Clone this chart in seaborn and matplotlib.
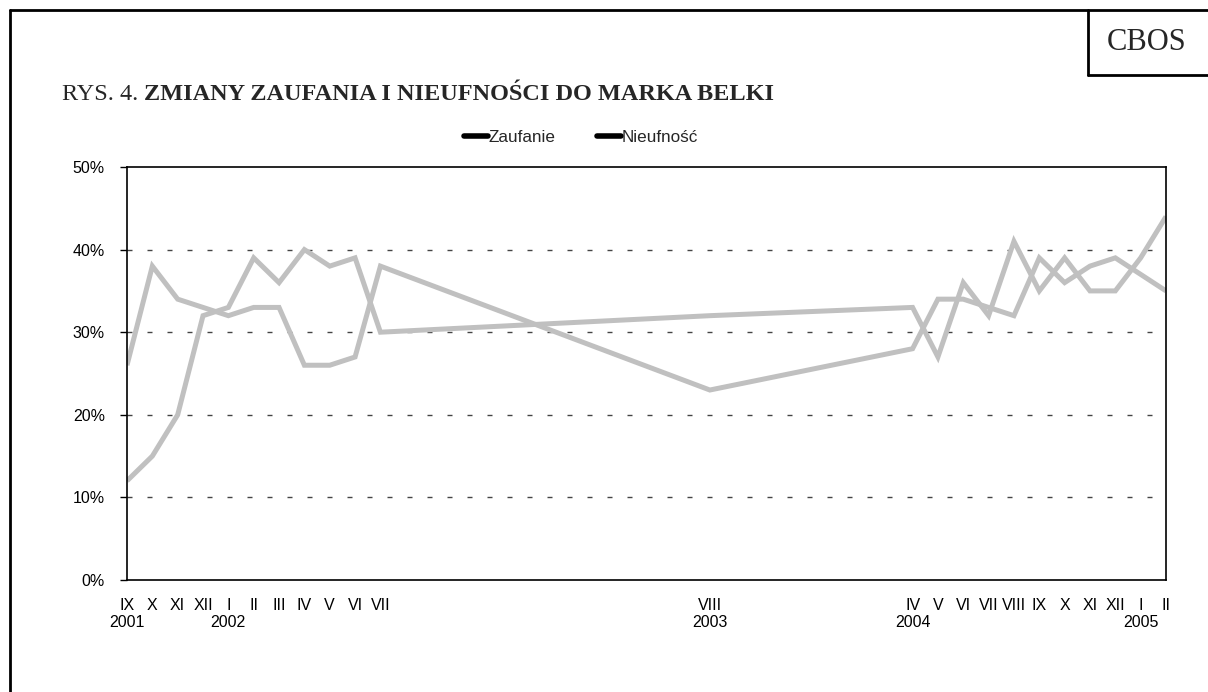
import matplotlib
matplotlib.use("Agg")
import matplotlib.pyplot as plt
from matplotlib.lines import Line2D
import seaborn as sns
import pandas as pd

# ---- data ----
dates = ["2001-09", "2001-10", "2001-11", "2001-12", "2002-01", "2002-02", "2002-03",
         "2002-04", "2002-05", "2002-06", "2002-07", "2003-08", "2004-04", "2004-05",
         "2004-06", "2004-07", "2004-08", "2004-09", "2004-10", "2004-11", "2004-12",
         "2005-01", "2005-02"]
month_labels = ["IX", "X", "XI", "XII", "I", "II", "III", "IV", "V", "VI", "VII", "VIII",
                "IV", "V", "VI", "VII", "VIII", "IX", "X", "XI", "XII", "I", "II"]
year_labels = ["2001", "", "", "", "2002", "", "", "", "", "", "", "2003",
               "2004", "", "", "", "", "", "", "", "", "2005", ""]
zaufanie = [12, 15, 20, 32, 33, 39, 36, 40, 38, 39, 30, 32,
            33, 27, 36, 32, 41, 35, 39, 35, 35, 39, 44]
nieufnosc = [26, 38, 34, 33, 32, 33, 33, 26, 26, 27, 38, 23,
             28, 34, 34, 33, 32, 39, 36, 38, 39, 37, 35]
series_names = ["Zaufanie", "Nieufność"]

# month index from first survey
d = pd.to_datetime(dates)
xpos = [(t.year - d[0].year) * 12 + t.month - d[0].month for t in d]

df = pd.DataFrame({
    "x": xpos * 2,
    "val": zaufanie + nieufnosc,
    "series": [series_names[0]] * len(xpos) + [series_names[1]] * len(xpos),
})

sns.set_theme(style="white")
plt.rcParams["font.family"] = ["Liberation Sans", "DejaVu Sans"]
plt.rcParams["lines.scale_dashes"] = False

fig = plt.figure(figsize=(12.08, 6.92), dpi=100)
ax = fig.add_axes([127 / 1208, 1 - 580 / 692, (1166 - 127) / 1208, (580 - 167) / 692])

sns.lineplot(data=df, x="x", y="val", hue="series", hue_order=series_names,
             palette=["#c0c0c0", "#c0c0c0"], linewidth=3.6, ax=ax, legend=False,
             sort=False)
for ln in ax.lines:
    ln.set_solid_joinstyle("miter")
    ln.set_solid_capstyle("butt")

ax.set_xlim(0, xpos[-1])
ax.set_ylim(0, 50)
ax.set_yticks([0, 10, 20, 30, 40, 50])
ax.set_yticklabels([f"{v}%" for v in [0, 10, 20, 30, 40, 50]], fontsize=11.5)
ax.set_xticks(xpos)
ax.set_xticklabels([m + ("\n" + y if y else "") for m, y in zip(month_labels, year_labels)],
                   fontsize=11.5, va="top")
ax.tick_params(axis="x", length=0, pad=13, colors="black")
ax.tick_params(axis="y", length=5, width=1, direction="out", pad=11, colors="black", left=True)
ax.set_xlabel("")
ax.set_ylabel("")

for v in [10, 20, 30, 40]:
    ax.axhline(v, color="#444444", linewidth=1.0, linestyle=(0, (3.6, 10.8)), zorder=0)

for s in ax.spines.values():
    s.set_visible(True)
    s.set_color("black")
    s.set_linewidth(1.2)

# legend
handles = [Line2D([0], [0], color="black", linewidth=4, solid_capstyle="round"),
           Line2D([0], [0], color="black", linewidth=4, solid_capstyle="round")]
fig.legend(handles, series_names, loc="center", bbox_to_anchor=(581 / 1208, 1 - 137 / 692),
           ncol=2, frameon=False, fontsize=12.3, handlelength=1.4, handletextpad=0.05,
           columnspacing=2.4)

# title
renderer = fig.canvas.get_renderer()
t1 = fig.text(62 / 1208, 1 - 100 / 692, "RYS. 4. ", fontsize=17.5, family="Liberation Serif",
              va="baseline", ha="left")
bb = t1.get_window_extent(renderer=renderer)
fig.text(bb.x1 / fig.bbox.width, 1 - 100 / 692, "ZMIANY ZAUFANIA I NIEUFNOŚCI DO MARKA BELKI",
         fontsize=17.5, family="Liberation Serif", fontweight="bold", va="baseline", ha="left")

# CBOS box and frame
fig.text(1147 / 1208, 1 - 42 / 692, "CBOS", fontsize=22, family="Liberation Serif",
         ha="center", va="center")
lw = 2.0
fig.add_artist(Line2D([10 / 1208, 10 / 1208], [0, 1 - 10 / 692], color="black", linewidth=lw))
fig.add_artist(Line2D([10 / 1208, 1], [1 - 10 / 692, 1 - 10 / 692], color="black", linewidth=lw))
fig.add_artist(Line2D([1088 / 1208, 1088 / 1208], [1 - 10 / 692, 1 - 75 / 692], color="black", linewidth=lw))
fig.add_artist(Line2D([1088 / 1208, 1], [1 - 75 / 692, 1 - 75 / 692], color="black", linewidth=lw))

fig.savefig("out.png", dpi=100)
